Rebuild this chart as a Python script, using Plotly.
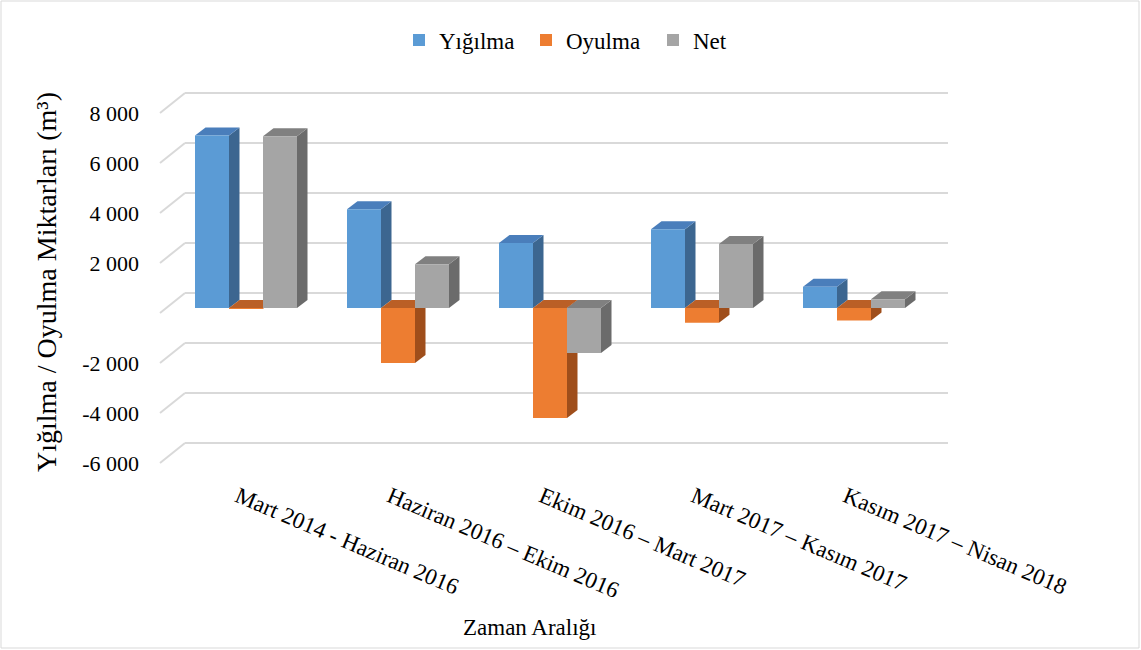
import plotly.graph_objects as go

# ---------------- data ----------------
categories = [
    "Mart 2014 - Haziran 2016",
    "Haziran 2016 – Ekim 2016",
    "Ekim 2016 – Mart 2017",
    "Mart 2017 – Kasım 2017",
    "Kasım 2017 – Nisan 2018",
]
series_names = ["Yığılma", "Oyulma", "Net"]
yigilma = [6900, 3950, 2600, 3150, 850]
oyulma = [-30, -2200, -4400, -590, -500]
net = [6870, 1750, -1800, 2560, 350]
y_ticks = [-6000, -4000, -2000, 0, 2000, 4000, 6000, 8000]

# ---------------- styling ----------------
front_colors = ["#5B9BD5", "#ED7D31", "#A5A5A5"]
top_colors = ["#4A7EBB", "#BA5F26", "#808080"]
side_colors = ["#3C6690", "#9F4E1B", "#6B6B6B"]
grid_color = "#D9D9D9"
FONT = "Liberation Serif"

W, H = 1141, 650
PL, PR, PT, PB = 150, 960, 80, 470          # plot area in pixels
CAT_PX, CAT0_PX = 152.0, 246.0              # pixels per category, centre of first category
UNIT_PX, ZERO_PX = 0.025, 308.0             # pixels per data unit, pixel row of zero
x_range = [(PL - CAT0_PX) / CAT_PX, (PR - CAT0_PX) / CAT_PX]
y_range = [(ZERO_PX - PB) / UNIT_PX, (ZERO_PX - PT) / UNIT_PX]

bw = 34.0 / CAT_PX            # bar width (category units)
dx = 10.5 / CAT_PX            # depth offset x
dy = 8.0 / UNIT_PX            # depth offset y (data units)
wall_dy = 15.0 / UNIT_PX      # back wall offset
label_dy = -5.0 / UNIT_PX     # front (label) plane offset
x_front = (160 - CAT0_PX) / CAT_PX
x_back = (185 - CAT0_PX) / CAT_PX
x_end = (948 - CAT0_PX) / CAT_PX


def px_to_paper_x(px):
    return (px - PL) / (PR - PL)


def px_to_paper_y(py):
    return (PB - py) / (PB - PT)


series = [yigilma, oyulma, net]
fig = go.Figure()
shapes = []

# back wall gridlines and side stubs
for v in y_ticks:
    shapes.append(dict(type="line", xref="x", yref="y", x0=x_back, x1=x_end,
                       y0=v + wall_dy, y1=v + wall_dy,
                       line=dict(color=grid_color, width=2), layer="between"))
    shapes.append(dict(type="line", xref="x", yref="y", x0=x_front, x1=x_back,
                       y0=v + label_dy, y1=v + wall_dy,
                       line=dict(color=grid_color, width=2), layer="between"))

# side & top faces, drawn left to right
for i in range(len(categories)):
    for k, vals in enumerate(series):
        v = vals[i]
        c = i + (k - 1) * bw
        xl, xr = c - bw / 2, c + bw / 2
        side = f"M{xr},0 L{xr},{v} L{xr + dx},{v + dy} L{xr + dx},{dy} Z"
        shapes.append(dict(type="path", xref="x", yref="y", path=side,
                           fillcolor=side_colors[k], line=dict(width=0), layer="between"))
        t = max(v, 0)
        top = f"M{xl},{t} L{xr},{t} L{xr + dx},{t + dy} L{xl + dx},{t + dy} Z"
        shapes.append(dict(type="path", xref="x", yref="y", path=top,
                           fillcolor=top_colors[k], line=dict(width=0), layer="between"))

# front faces as bars
for k, (name, vals) in enumerate(zip(series_names, series)):
    fig.add_trace(go.Bar(
        x=[i + (k - 1) * bw for i in range(len(categories))],
        y=vals, width=bw, name=name,
        marker=dict(color=front_colors[k], line=dict(width=0)),
        customdata=categories,
        hovertemplate="%{customdata}<br>" + name + ": %{y}<extra></extra>",
    ))

# figure border
shapes.append(dict(type="rect", xref="paper", yref="paper",
                   x0=px_to_paper_x(1), x1=px_to_paper_x(W - 2),
                   y0=px_to_paper_y(H - 2), y1=px_to_paper_y(1),
                   line=dict(color=grid_color, width=1), fillcolor="rgba(0,0,0,0)",
                   layer="below"))

tick_text = ["" if v == 0 else f"{v:,}".replace(",", " ") for v in y_ticks]

fig.update_layout(
    width=W, height=H,
    margin=dict(l=PL, r=W - PR, t=PT, b=H - PB),
    paper_bgcolor="white", plot_bgcolor="white",
    barmode="overlay",
    font=dict(family=FONT, size=22, color="#000000"),
    shapes=shapes,
    showlegend=True,
    legend=dict(orientation="h", x=px_to_paper_x(399), y=px_to_paper_y(40),
                xanchor="left", yanchor="middle",
                entrywidth=82, entrywidthmode="pixels", itemwidth=30,
                font=dict(family=FONT, size=23, color="#000000"),
                traceorder="normal"),
    xaxis=dict(range=x_range, tickvals=list(range(len(categories))), ticktext=categories,
               tickangle=23, showgrid=False, zeroline=False, showline=False, ticks="",
               tickfont=dict(family=FONT, size=23, color="#000000"),
               ticklabelshift=-8, ticklabelstandoff=8),
    yaxis=dict(range=y_range, tickvals=[v + label_dy for v in y_ticks], ticktext=tick_text,
               showgrid=False, zeroline=False, showline=False, ticks="",
               tickfont=dict(family=FONT, size=22, color="#000000"),
               ticklabelstandoff=10),
    annotations=[
        dict(text="Yığılma / Oyulma Miktarları (m³)", xref="paper", yref="paper",
             x=px_to_paper_x(46), y=px_to_paper_y(282), xanchor="center", yanchor="middle",
             textangle=-90, showarrow=False, font=dict(family=FONT, size=28, color="#000000")),
        dict(text="Zaman Aralığı", xref="paper", yref="paper",
             x=px_to_paper_x(530), y=px_to_paper_y(627), xanchor="center", yanchor="middle",
             showarrow=False, font=dict(family=FONT, size=23, color="#000000")),
    ],
)

fig.write_html("out.html", config={"displayModeBar": False},
               post_script="document.body.style.margin='0';")
